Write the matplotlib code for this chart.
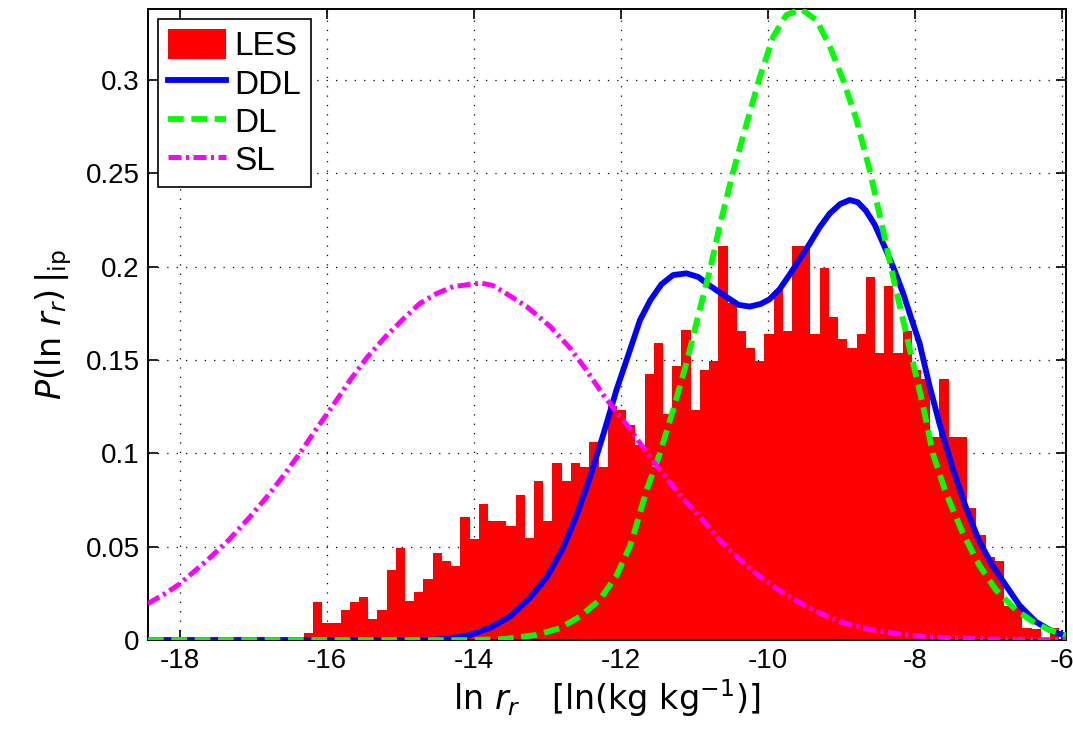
import numpy as np
import matplotlib
matplotlib.use("Agg")
import matplotlib.pyplot as plt
from matplotlib.ticker import FuncFormatter

plt.rcParams["font.family"] = ["Liberation Sans Narrow", "Liberation Sans", "DejaVu Sans"]
plt.rcParams["mathtext.fontset"] = "custom"
plt.rcParams["mathtext.rm"] = "Liberation Sans Narrow"
plt.rcParams["mathtext.it"] = "Liberation Sans Narrow:italic"
plt.rcParams["axes.unicode_minus"] = False

# --- LES histogram (82 bins of equal width) ---
bin_start = -16.313
bin_width = 0.12527
les = [0.0039, 0.0205, 0.0090, 0.0090, 0.0161, 0.0205, 0.0231, 0.0111, 0.0161, 0.0375,
       0.0491, 0.0207, 0.0255, 0.0327, 0.0468, 0.0421, 0.0398, 0.0658, 0.0543, 0.0728,
       0.0637, 0.0637, 0.0612, 0.0778, 0.0545, 0.0850, 0.0637, 0.0946, 0.0852, 0.0946,
       0.0925, 0.1062, 0.0925, 0.1255, 0.1230, 0.1150, 0.1045, 0.1423, 0.1590, 0.1209,
       0.1468, 0.1661, 0.1232, 0.1446, 0.1495, 0.2111, 0.1807, 0.1655, 0.1563, 0.1495,
       0.1639, 0.1877, 0.1657, 0.2111, 0.2111, 0.1639, 0.1994, 0.1731, 0.1612, 0.1563,
       0.1639, 0.1945, 0.1540, 0.1898, 0.1540, 0.1657, 0.1446, 0.1396, 0.1090, 0.1396,
       0.1090, 0.1090, 0.0705, 0.0562, 0.0446, 0.0423, 0.0180, 0.0182, 0.0066, 0.0060,
       0.0010, 0.0063]

# --- DDL curve ---
ddl_x = [-18.43, -14.8, -14.5, -14.32, -14.05, -13.78, -13.51, -13.24, -13.01, -12.79,
         -12.61, -12.43, -12.24, -12.06, -11.88, -11.74, -11.60, -11.45, -11.29, -11.11,
         -10.95, -10.80, -10.57, -10.40, -10.25, -10.10, -9.98, -9.84, -9.71, -9.57,
         -9.43, -9.30, -9.16, -9.02, -8.89, -8.78, -8.67, -8.55, -8.43, -8.30,
         -8.17, -8.05, -7.94, -7.81, -7.67, -7.49, -7.30, -7.13, -6.95, -6.78,
         -6.58, -6.36, -6.13, -5.95]
ddl_y = [0.0, 0.0, 0.0003, 0.0009, 0.0027, 0.0065, 0.0125, 0.0225, 0.0335, 0.0490,
         0.0660, 0.0860, 0.1100, 0.1340, 0.1550, 0.1714, 0.1820, 0.1905, 0.1955, 0.1964,
         0.1945, 0.1900, 0.1839, 0.1795, 0.1786, 0.1800, 0.1825, 0.1880, 0.1955, 0.2040,
         0.2125, 0.2210, 0.2285, 0.2335, 0.2357, 0.2345, 0.2300, 0.2225, 0.2120, 0.2000,
         0.1865, 0.1720, 0.1590, 0.1370, 0.1160, 0.0920, 0.0700, 0.0530, 0.0400, 0.0300,
         0.0185, 0.0098, 0.0045, 0.0022]

# --- DL curve ---
dl_x = [-18.43, -14.0, -13.6, -13.51, -13.15, -12.83, -12.56, -12.29, -12.06, -11.88,
        -11.83, -11.65, -11.47, -11.29, -11.11, -10.93, -10.79, -10.66, -10.48, -10.29,
        -10.11, -9.93, -9.75, -9.55, -9.34, -9.16, -8.98, -8.80, -8.62, -8.44,
        -8.26, -8.08, -7.90, -7.76, -7.58, -7.35, -7.13, -6.90, -6.63, -6.40,
        -6.18, -5.95]
dl_y = [0.0, 0.0, 0.0005, 0.0009, 0.0027, 0.0063, 0.0125, 0.0214, 0.0345, 0.0500,
        0.0560, 0.0804, 0.1000, 0.1232, 0.1482, 0.1768, 0.1982, 0.2214, 0.2500, 0.2768,
        0.3018, 0.3232, 0.3348, 0.3380, 0.3320, 0.3180, 0.3000, 0.2790, 0.2520, 0.2200,
        0.1875, 0.1570, 0.1270, 0.1000, 0.0786, 0.0571, 0.0402, 0.0268, 0.0161, 0.0098,
        0.0054, 0.0025]

# --- SL curve ---
sl_x = [-18.43, -18.37, -18.21, -18.0, -17.62, -17.33, -17.06, -16.81, -16.58, -16.36,
        -16.15, -15.91, -15.68, -15.45, -15.20, -14.95, -14.73, -14.50, -14.28, -14.05,
        -13.90, -13.75, -13.60, -13.28, -12.96, -12.69, -12.47, -12.24, -12.06, -11.88,
        -11.74, -11.47, -11.20, -10.93, -10.66, -10.38, -10.11, -9.89, -9.71, -9.39,
        -9.03, -8.62, -8.21, -7.85, -7.40, -7.00, -6.50, -5.95]
sl_y = [0.0195, 0.0209, 0.0245, 0.0300, 0.0429, 0.0536, 0.0652, 0.0768, 0.0884, 0.1003,
        0.1125, 0.1259, 0.1393, 0.1514, 0.1625, 0.1723, 0.1804, 0.1857, 0.1893, 0.1905,
        0.1912, 0.1900, 0.1866, 0.1786, 0.1679, 0.1563, 0.1446, 0.1313, 0.1220, 0.1134,
        0.1054, 0.0911, 0.0777, 0.0661, 0.0536, 0.0429, 0.0339, 0.0277, 0.0232, 0.0161,
        0.0098, 0.0057, 0.0032, 0.0018, 0.0010, 0.0006, 0.0003, 0.0001]

x_ticks = [-18, -16, -14, -12, -10, -8, -6]
y_ticks = [0, 0.05, 0.1, 0.15, 0.2, 0.25, 0.3]

fig = plt.figure(figsize=(10.73, 7.37), dpi=100)
ax = fig.add_axes([0.1379, 0.1316, 0.8555, 0.8562])

edges = bin_start + bin_width * np.arange(len(les) + 1)
ax.stairs(les, edges, fill=True, color="#ff0000", label="LES", zorder=2)
ax.plot(ddl_x, ddl_y, color="#0000ff", lw=4.2, label="DDL", zorder=3)
ax.plot(dl_x, dl_y, color="#00ff00", lw=4.2, dashes=(2.7, 1.3), label="DL", zorder=4)
ax.plot(sl_x, sl_y, color="#ff00ff", lw=3.6, dashes=(2.6, 0.9, 0.6, 0.9),
        label="SL", zorder=5)

ax.set_xlim(-18.43, -5.95)
ax.set_ylim(0, 0.338)
ax.set_xticks(x_ticks)
ax.set_yticks(y_ticks)
fmt = FuncFormatter(lambda v, p: f"{v:g}")
ax.xaxis.set_major_formatter(fmt)
ax.yaxis.set_major_formatter(fmt)

ax.set_axisbelow(True)
ax.grid(True, color="black", lw=0.9, linestyle=(0, (1, 6.5)))
ax.tick_params(direction="in", top=True, right=True, length=7, width=1.2,
               labelsize=20)
ax.tick_params(axis="x", pad=6)
ax.tick_params(axis="y", pad=6)
for s in ax.spines.values():
    s.set_linewidth(1.4)

ax.set_xlabel(r"$\ln\,r_r\quad[\ln(\mathrm{kg\ kg}^{-1})]$", fontsize=24, labelpad=2)
ax.set_ylabel(r"$P(\ln\,r_r)\,|_{\mathrm{ip}}$", fontsize=24, labelpad=8)

leg = ax.legend(loc="upper left", fontsize=24, fancybox=False, framealpha=1,
                edgecolor="black", borderaxespad=0.3, handlelength=1.75,
                handleheight=1.0, handletextpad=0.25, labelspacing=0.15,
                borderpad=0.3)
leg.get_frame().set_linewidth(1.2)

fig.savefig("out.png", dpi=100)
